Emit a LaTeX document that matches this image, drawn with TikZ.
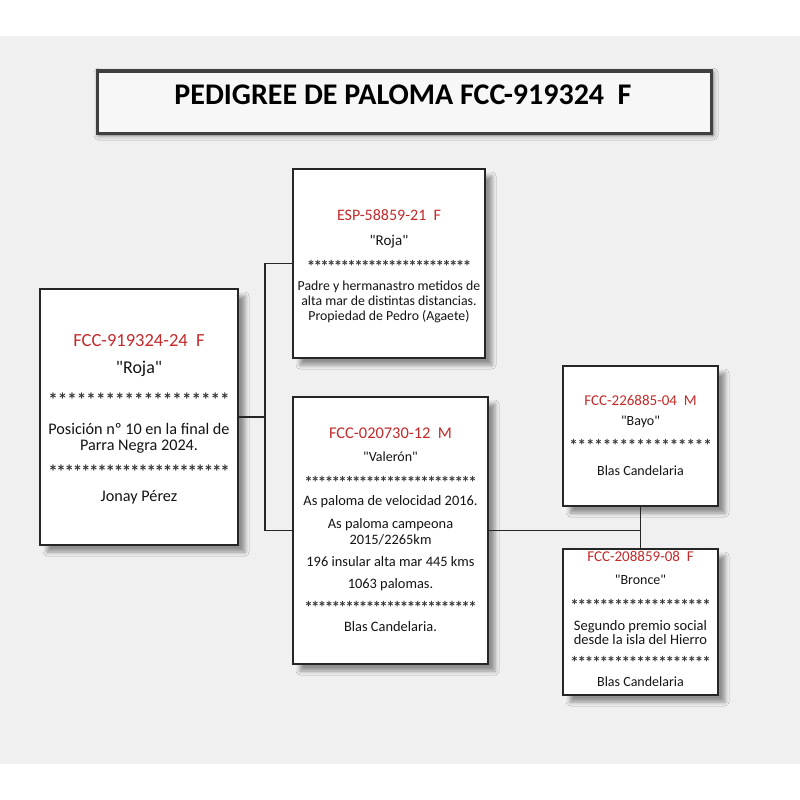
\documentclass[tikz,border=0pt]{standalone}
\usepackage{fontspec}
\setmainfont{Carlito}[Ligatures=TeXOff]
\usetikzlibrary{shadows.blur}
\definecolor{bg}{RGB}{240,240,240}
\definecolor{idred}{RGB}{196,42,42}
\definecolor{ink}{RGB}{20,20,20}
\newcommand{\fsz}[1]{\fontsize{#1}{#1}\selectfont}
\newcommand{\onestar}{\makebox[0pt]{*}}
\newcommand{\starline}[2]{\hbox to #2pt{\onestar\foreach\k in {2,...,#1}{\hfil\onestar}}}
\begin{document}
\begin{tikzpicture}[x=1pt,y=-1pt,
  box/.style={draw=black!85, line width=1.1pt, fill=white, inner sep=0pt,
    blur shadow={shadow xshift=7pt, shadow yshift=-7pt, shadow blur radius=4pt, shadow opacity=40}},
  titlebox/.style={draw=black!75, line width=3pt, fill=white!97!black, inner sep=0pt,
    blur shadow={shadow xshift=2pt, shadow yshift=-2pt, shadow blur radius=5pt, shadow opacity=55}},
  t/.style={anchor=base, inner sep=0pt, text=ink},
  st/.style={anchor=base, inner sep=0pt, text=ink!85},
  idt/.style={anchor=base, inner sep=0pt, text=idred},
  wire/.style={draw=black!85, line width=1.1pt}]
\useasboundingbox (0,0) rectangle (800,800);
\fill[white] (0,0) rectangle (800,800);
\fill[bg] (0,36) rectangle (800,764);

% title
\node[titlebox, minimum width=614pt, minimum height=62pt] (title) at (404,102) {};
\node[anchor=base, inner sep=0pt, text=black, font=\bfseries\fsz{30}] (ttl) at (403,104.3) {PEDIGREE DE PALOMA FCC-919324\ \ F};

% boxes
\node[box, minimum width=198pt, minimum height=256pt] (left) at (139,417) {};
\node[box, minimum width=192pt, minimum height=189pt] (topm) at (389,263.5) {};
\node[box, minimum width=195pt, minimum height=267pt] (mid) at (390.5,530.5) {};
\node[box, minimum width=155pt, minimum height=140pt] (rt) at (640.5,436) {};
\node[box, minimum width=155pt, minimum height=146pt] (rb) at (640.5,622) {};

% connectors
\coordinate (j1) at (265,417);
\draw[wire] (left.east) -- (j1);
\draw[wire] (topm.west) -| (j1) |- (mid.west);
\draw[wire] (mid.east) -- (mid.east -| rt.south);
\draw[wire] (rt.south) -- (rb.north);

% left box
\node[idt, font=\fsz{18.5}] (l1) at (139,346.7) {FCC-919324-24\ \ F};
\node[t, font=\fsz{18}] (l2) at (139,373.3) {"Roja"};
\node[st, font=\bfseries\fsz{19}] (l3) at (139,406.2) {\starline{19}{172}};
\node[t, font=\fsz{16.2}] (l4) at (139,434.3) {Posición nº 10 en la final de};
\node[t, font=\fsz{16.2}] (l5) at (139,450.7) {Parra Negra 2024.};
\node[st, font=\bfseries\fsz{19}] (l6) at (139,478.9) {\starline{22}{172}};
\node[t, font=\fsz{16.2}] (l7) at (139,501) {Jonay Pérez};

% top middle box
\node[idt, font=\fsz{16}] (a1) at (389,220) {ESP-58859-21\ \ F};
\node[t, font=\fsz{15}] (a2) at (389,245) {"Roja"};
\node[st, font=\bfseries\fsz{17}] (a3) at (389,272.7) {\starline{24}{156}};
\node[t, font=\fsz{13.8}] (a4) at (389,290) {Padre y hermanastro metidos de};
\node[t, font=\fsz{13.8}] (a5) at (389,305) {alta mar de distintas distancias.};
\node[t, font=\fsz{13.8}] (a6) at (389,320) {Propiedad de Pedro (Agaete)};

% middle box
\node[idt, font=\fsz{16.4}] (b1) at (390.5,438.3) {FCC-020730-12\ \ M};
\node[t, font=\fsz{14}] (b2) at (390.5,461.7) {"Valerón"};
\node[st, font=\bfseries\fsz{17}] (b3) at (390.5,488.3) {\starline{25}{164}};
\node[t, font=\fsz{14.4}] (b4) at (390.5,505.7) {As paloma de velocidad 2016.};
\node[t, font=\fsz{14.4}] (b5) at (390.5,528.3) {As paloma campeona};
\node[t, font=\fsz{14.4}] (b6) at (390.5,544) {2015/2265km};
\node[t, font=\fsz{14.4}] (b7) at (390.5,566.7) {196 insular alta mar 445 kms};
\node[t, font=\fsz{14.4}] (b8) at (390.5,588.3) {1063 palomas.};
\node[st, font=\bfseries\fsz{17}] (b9) at (390.5,613.3) {\starline{25}{164}};
\node[t, font=\fsz{14.4}] (b10) at (390.5,631.7) {Blas Candelaria.};

% right top box
\node[idt, font=\fsz{15}] (c1) at (640.5,405) {FCC-226885-04\ \ M};
\node[t, font=\fsz{14}] (c2) at (640.5,425) {"Bayo"};
\node[st, font=\bfseries\fsz{17}] (c3) at (640.5,451.7) {\starline{17}{134}};
\node[t, font=\fsz{14}] (c4) at (640.5,475) {Blas Candelaria};

% right bottom box
\node[idt, font=\fsz{15}] (d1) at (640.5,561.7) {FCC-208859-08\ \ F};
\node[t, font=\fsz{14}] (d2) at (640.5,584) {"Bronce"};
\node[st, font=\bfseries\fsz{17}] (d3) at (640.5,611) {\starline{19}{132}};
\node[t, font=\fsz{14.5}] (d4) at (640.5,630) {Segundo premio social};
\node[t, font=\fsz{14.5}] (d5) at (640.5,644) {desde la isla del Hierro};
\node[st, font=\bfseries\fsz{17}] (d6) at (640.5,668.3) {\starline{19}{132}};
\node[t, font=\fsz{14}] (d7) at (640.5,686.7) {Blas Candelaria};
\end{tikzpicture}
\end{document}
